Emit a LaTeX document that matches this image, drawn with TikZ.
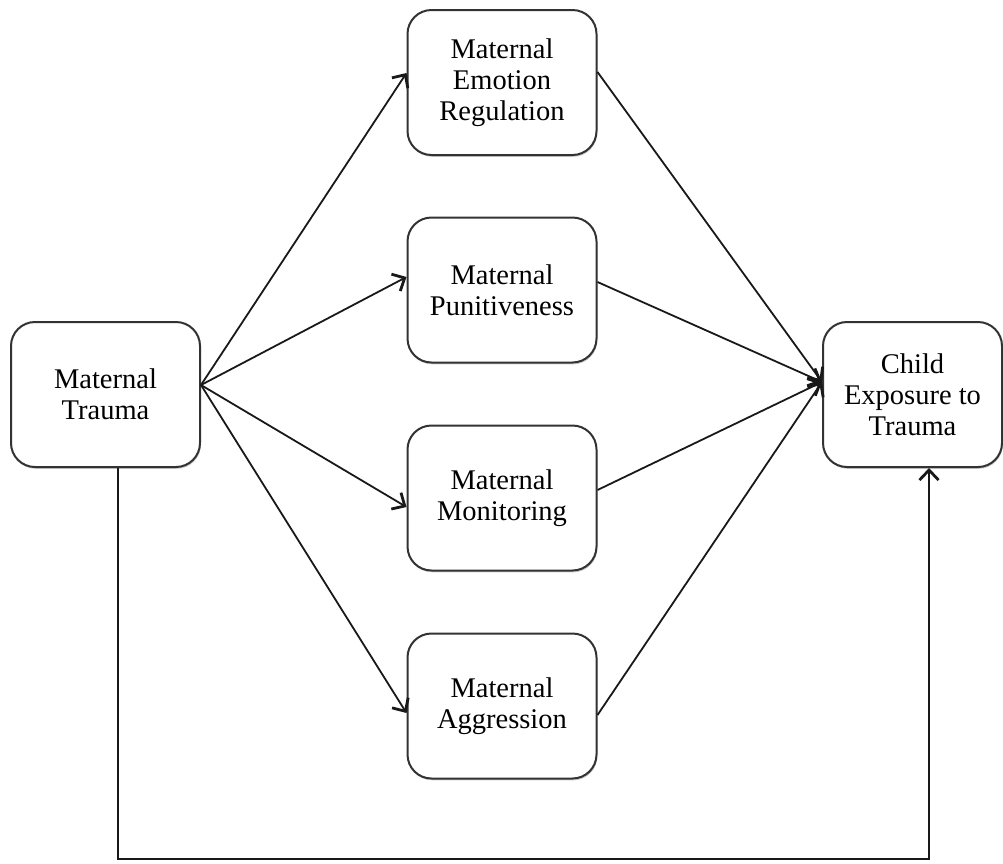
\documentclass[tikz,border=0pt]{standalone}
\usepackage{fontspec}
\setmainfont{Liberation Serif}
\usetikzlibrary{arrows.meta,calc,shadows}
\begin{document}
\begin{tikzpicture}[x=1pt,y=-1pt,
  box/.style={draw=black!80, line width=2pt, rounded corners=24pt, fill=white,
    align=center, font=\fontsize{28.5}{31}\selectfont, text=black,
    inner sep=0pt, minimum width=189pt, minimum height=145pt,
    drop shadow={shadow xshift=0.8pt, shadow yshift=-1.8pt, opacity=0.35, fill=black!60}},
  link/.style={line width=1.8pt, draw=black!90,
    -{Straight Barb[length=10pt,width=19pt,line width=2.8pt]}},
  plain/.style={line width=1.8pt, draw=black!85}]

\useasboundingbox (0,0) rectangle (1003,863);

% boxes
\node[box] (trauma) at (105.5,394.5) {Maternal\\Trauma};
\node[box] (emo) at (502,82.5) {Maternal\\Emotion\\Regulation};
\node[box] (pun) at (502,290) {Maternal\\Punitiveness};
\node[box] (mon) at (502,498) {Maternal\\Monitoring};
\node[box] (agg) at (502,706) {Maternal\\Aggression};
\node[box, minimum width=179pt] (child) at (912.5,394.5) {Child\\Exposure to\\Trauma};

% attachment points
\coordinate (fan) at ($(trauma.east)+(0,-9.5)$);
\coordinate (sink) at ($(child.west)+(0,-12.5)$);
\coordinate (lowL) at ($(trauma.south)+(12.5,391)$);
\coordinate (lowR) at ($(child.south)+(16.5,391)$);

% trauma to mediators
\draw[link] (fan) -- ($(emo.west)+(0,-9.5)$);
\draw[link] (fan) -- ($(pun.west)+(0,-13)$);
\draw[link] (fan) -- ($(mon.west)+(0,9)$);
\draw[link] (fan) -- ($(agg.west)+(0,7)$);

% mediators to child exposure
\draw[link] ($(emo.east)+(0,-10.5)$) -- (sink);
\draw[link] ($(pun.east)+(0,-8)$) -- (sink);
\draw[link] ($(mon.east)+(0,-8)$) -- (sink);
\draw[link] ($(agg.east)+(0,9)$) -- (sink);

% direct path
\draw[link] ($(trauma.south)+(12.5,0)$) -- (lowL) -- (lowR) -- ($(child.south)+(16.5,0)$);
\end{tikzpicture}
\end{document}
